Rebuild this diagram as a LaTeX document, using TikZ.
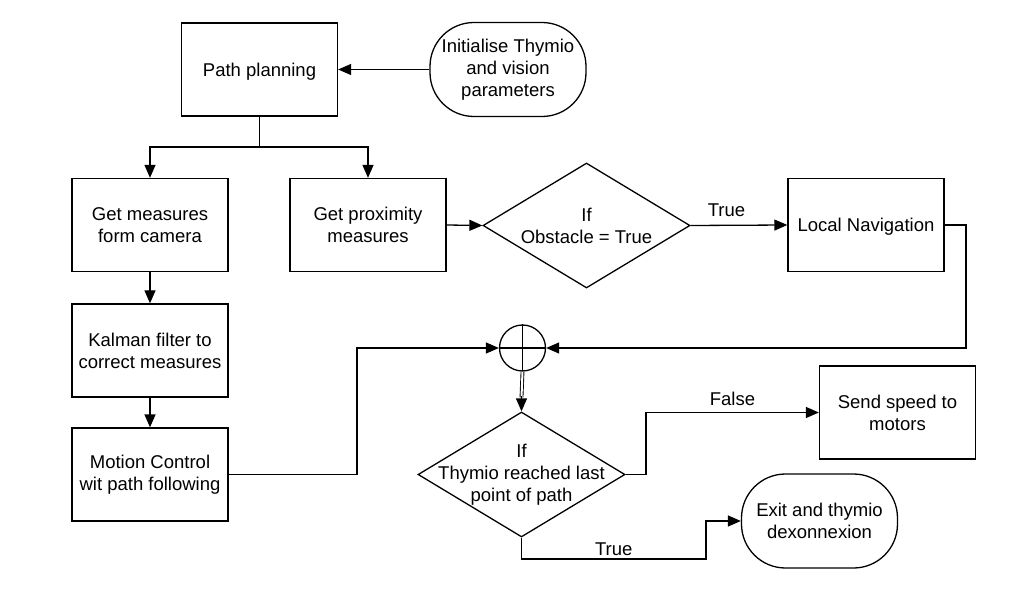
\documentclass[tikz,border=0pt]{standalone}
\usepackage{fontspec}
\setmainfont{Liberation Sans}
\usetikzlibrary{arrows.meta,shapes.geometric,calc}
\begin{document}
\begin{tikzpicture}[x=1pt,y=-1pt,
  every node/.style={font=\fontsize{18.5}{22}\selectfont, align=center},
  box/.style={draw, line width=1.3pt, minimum width=156pt, minimum height=93pt, inner sep=2pt},
  term/.style={draw, line width=1.3pt, minimum width=156pt, minimum height=94pt, rounded corners=44pt},
  dec/.style={draw, diamond, line width=1.3pt, minimum width=207pt, minimum height=125pt, inner sep=0pt},
  conn/.style={line width=1.3pt, -{Triangle[length=13pt,width=11pt]}},
  plain/.style={line width=1.3pt}]
\useasboundingbox (0,0) rectangle (1025,593);

\node[box, text depth=0pt] (pp) at (259.5,69.5) {Path planning};
\node[term] (init) at (508,69.5) {Initialise Thymio\\and vision\\parameters};
\node[box] (gm) at (150,225) {Get measures\\form camera};
\node[box] (gp) at (368,225) {Get proximity\\measures};
\node[dec] (d1) at (586.5,225.5) {};
\node (d1t) at (d1.center) {If\\Obstacle = True};
\node[box, text depth=0pt] (ln) at (866,225) {Local Navigation};
\node[box] (kf) at (150,350.5) {Kalman filter to\\correct measures};
\node[box] (mc) at (150,474.5) {Motion Control\\wit path following};
\node[circle, draw, minimum size=46pt, inner sep=0pt, line width=1.3pt] (sum) at (522.5,348) {};
\node[dec] (d2) at (521.5,474.5) {};
\node (d2t) at (d2.center) {If\\Thymio reached last\\point of path};
\node[box] (ss) at (897.5,412.5) {Send speed to\\motors};
\node[term] (ex) at (819.5,521) {Exit and thymio\\dexonnexion};

\draw[conn] (init.west) -- (pp.east);
\draw[plain] (pp.south) -- (259.5,147) coordinate (split);
\draw[conn] (split) -| (gm.north);
\draw[conn] (split) -| (gp.north);
\draw[conn] (gp.east) -- (d1.west);
\draw[conn] (d1.east) -- node[pos=0.37, above, inner sep=8pt] {True} (ln.west);
\draw[conn] (ln.east) -- (966,225) |- (sum.east);
\draw[conn] (gm.south) -- (kf.north);
\draw[conn] (kf.south) -- (mc.north);
\draw[conn] (mc.east) -- (357,474.5) |- (sum.west);
\draw[plain] (sum.north) -- (sum.south);
\draw[plain] (sum.west) -- (sum.east);
\draw[line width=0.9pt, double, double distance=2pt] (sum.south) -- ($(d2.north)+(0,-14)$);
\draw[conn] ($(d2.north)+(0,-15)$) -- (d2.north);
\draw[conn] (d2.east) -- (646,474.5) |- node[pos=0.75, above, inner sep=6pt] {False} (ss.west);
\draw[conn] (d2.south) -- (521.5,559) -- node[above, inner sep=3pt] {True} (706,559) |- (ex.west);
\end{tikzpicture}
\end{document}
